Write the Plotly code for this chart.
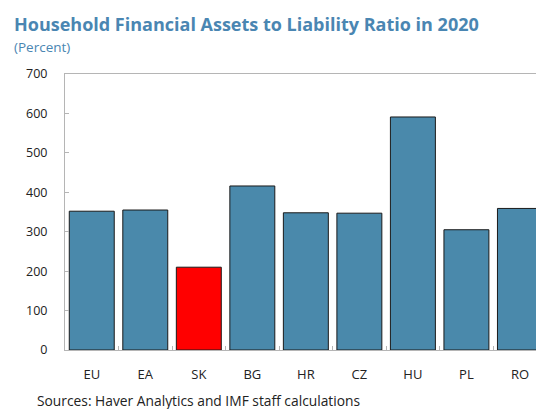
import plotly.graph_objects as go

categories = ["EU", "EA", "SK", "BG", "HR", "CZ", "HU", "PL", "RO"]
values = [352, 355, 210, 416, 348, 347, 591, 305, 359]
highlight = "SK"
y_ticks = [0, 100, 200, 300, 400, 500, 600, 700]

BLUE = "#4a89ab"
RED = "#ff0000"
colors = [RED if c == highlight else BLUE for c in categories]

W, H = 536, 409
L, R, T, B = 65, 0, 74, 409 - 350
pw, ph = W - L - R, H - T - B

def px(x):
    return (x - L) / pw

def py(y):
    return (H - B - y) / ph

fig = go.Figure()
fig.add_trace(go.Bar(
    x=categories, y=values,
    marker=dict(color=colors, line=dict(color="#1a1a1a", width=1)),
    width=0.84,
))

FONT = "Open Sans"
fig.update_layout(
    width=W, height=H,
    margin=dict(l=L, r=R, t=T, b=B),
    paper_bgcolor="white", plot_bgcolor="white",
    showlegend=False,
    font=dict(family=FONT, color="#222222", size=12),
    xaxis=dict(
        range=[-0.5, 8.30],
        showline=True, linecolor="#b5b5b5", linewidth=1,
        mirror=True,
        ticks="inside", tickson="boundaries", ticklen=4, tickcolor="#b5b5b5",
        showgrid=False, zeroline=False,
        tickfont=dict(size=13, family=FONT, color="#222222"),
        ticklabelstandoff=12,
    ),
    yaxis=dict(
        range=[0, 700],
        tickvals=y_ticks,
        showline=True, linecolor="#b5b5b5", linewidth=1,
        ticks="inside", ticklen=4, tickcolor="#b5b5b5",
        showgrid=False, zeroline=False,
        tickfont=dict(size=12.5, family=FONT, color="#222222"),
        ticklabelstandoff=14,
    ),
    annotations=[
        dict(text="<b>Household Financial Assets to Liability Ratio in 2020</b>",
             xref="paper", yref="paper", x=px(12), y=py(24),
             xanchor="left", yanchor="middle", showarrow=False,
             font=dict(family=FONT, size=18, color="#4a86b2")),
        dict(text="(Percent)",
             xref="paper", yref="paper", x=px(12), y=py(47),
             xanchor="left", yanchor="middle", showarrow=False,
             font=dict(family=FONT, size=13.5, color="#4a86b2")),
        dict(text="Sources: Haver Analytics and IMF staff calculations",
             xref="paper", yref="paper", x=px(35), y=py(400.5),
             xanchor="left", yanchor="middle", showarrow=False,
             font=dict(family=FONT, size=13.8, color="#222222")),
    ],
)

fig.write_html(
    "out.html",
    config={"displayModeBar": False},
    post_script="document.body.style.margin='0';document.body.style.overflow='hidden';",
)
